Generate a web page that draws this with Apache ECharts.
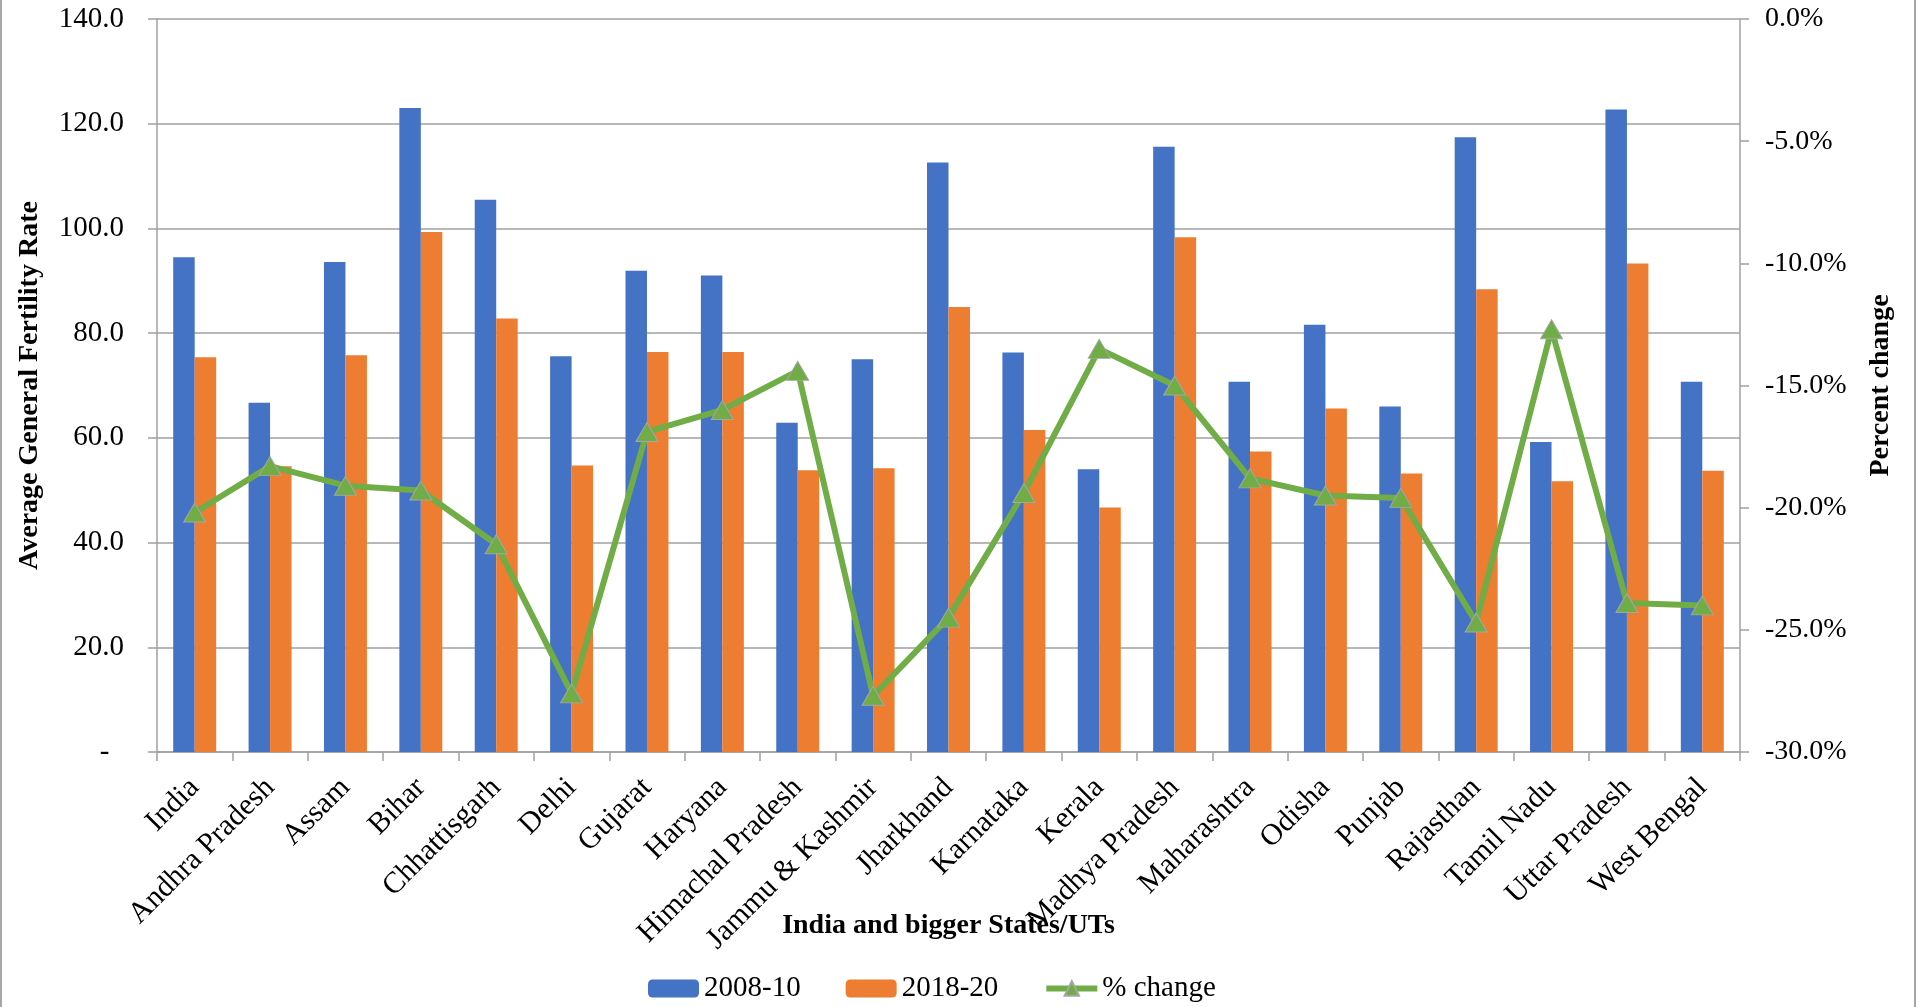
<!DOCTYPE html>
<html>
<head>
<meta charset="utf-8">
<script src="https://cdn.jsdelivr.net/npm/echarts@6/dist/echarts.min.js"></script>
<style>
html,body{margin:0;padding:0;background:#fff;}
#chart{width:1918px;height:1007px;}
</style>
</head>
<body>
<div id="chart"></div>
<script>
const categories = ['India','Andhra Pradesh','Assam','Bihar','Chhattisgarh','Delhi','Gujarat','Haryana','Himachal Pradesh','Jammu & Kashmir','Jharkhand','Karnataka','Kerala','Madhya Pradesh','Maharashtra','Odisha','Punjab','Rajasthan','Tamil Nadu','Uttar Pradesh','West Bengal'];
const gfr2008 = [94.5, 66.7, 93.6, 123.0, 105.5, 75.6, 91.9, 91.0, 62.9, 75.0, 112.6, 76.3, 54.0, 115.6, 70.7, 81.6, 66.0, 117.4, 59.2, 122.7, 70.7];
const gfr2018 = [75.4, 54.6, 75.8, 99.3, 82.8, 54.7, 76.4, 76.4, 53.8, 54.2, 85.0, 61.5, 46.7, 98.3, 57.4, 65.6, 53.2, 88.4, 51.7, 93.3, 53.7];
const pctChange = [-20.2, -18.3, -19.1, -19.3, -21.5, -27.6, -16.9, -16.0, -14.4, -27.7, -24.5, -19.4, -13.5, -15.0, -18.8, -19.5, -19.6, -24.7, -12.7, -23.9, -24.0];
const seriesNames = ['2008-10', '2018-20', '% change'];

const FONT = '"Liberation Serif", "Times New Roman", serif';
const chart = echarts.init(document.getElementById('chart'), null, {renderer: 'canvas'});
chart.setOption({
  animation: false,
  backgroundColor: '#fff',
  textStyle: {fontFamily: FONT, color: '#000'},
  grid: {left: 157, right: 178, top: 19, bottom: 255, containLabel: false, outerBoundsMode: 'none'},
  legend: {
    top: 969, left: 643,
    itemWidth: 51, itemHeight: 18, itemGap: 45,
    textStyle: {fontFamily: FONT, fontSize: 29, color: '#000'},
    lineStyle: {width: 6},
    data: seriesNames
  },
  graphic: [{
    type: 'rect', silent: true, z: -1,
    shape: {x: 1, y: -5, width: 1914, height: 1020},
    style: {fill: 'none', stroke: '#a6a6a6', lineWidth: 2}
  }],
  xAxis: {
    type: 'category', data: categories,
    boundaryGap: true,
    name: 'India and bigger States/UTs',
    nameLocation: 'middle', nameGap: 160, nameMoveOverlap: false,
    nameTextStyle: {fontFamily: FONT, fontSize: 28, fontWeight: 'bold', color: '#000'},
    axisLine: {lineStyle: {color: '#a0a0a0', width: 1.5}},
    axisTick: {show: true, alignWithLabel: false, length: 9, lineStyle: {color: '#a0a0a0', width: 1.5}},
    axisLabel: {rotate: 45, interval: 0, margin: 31, fontFamily: FONT, fontSize: 30, color: '#000'}
  },
  yAxis: [{
    type: 'value', min: 0, max: 140, interval: 20,
    name: 'Average General Fertility Rate',
    nameLocation: 'middle', nameGap: 113, nameRotate: 90, nameMoveOverlap: false,
    nameTextStyle: {fontFamily: FONT, fontSize: 28, fontWeight: 'bold', color: '#000'},
    axisLine: {show: true, lineStyle: {color: '#a0a0a0', width: 1.5}},
    axisTick: {show: true, length: 9, lineStyle: {color: '#a0a0a0', width: 1.5}},
    axisLabel: {margin: 33, fontFamily: FONT, fontSize: 29, color: '#000',
      formatter: v => v === 0 ? '-\u2002' : v.toFixed(1)},
    splitLine: {show: true, lineStyle: {color: '#a0a0a0', width: 1.5}}
  }, {
    type: 'value', min: -30, max: 0, interval: 5, position: 'right',
    name: 'Percent change',
    nameLocation: 'middle', nameGap: 127, nameRotate: 90, nameMoveOverlap: false,
    nameTextStyle: {fontFamily: FONT, fontSize: 28, fontWeight: 'bold', color: '#000'},
    axisLine: {show: true, lineStyle: {color: '#a0a0a0', width: 1.5}},
    axisTick: {show: true, length: 9, lineStyle: {color: '#a0a0a0', width: 1.5}},
    axisLabel: {margin: 25, fontFamily: FONT, fontSize: 28, color: '#000',
      formatter: v => v.toFixed(1) + '%'},
    splitLine: {show: false}
  }],
  series: [{
    name: seriesNames[0], type: 'bar', data: gfr2008,
    barGap: '0%', barCategoryGap: '43%',
    itemStyle: {color: '#4472C4'}
  }, {
    name: seriesNames[1], type: 'bar', data: gfr2018,
    itemStyle: {color: '#ED7D31'}
  }, {
    name: seriesNames[2], type: 'line', data: pctChange, yAxisIndex: 1,
    symbol: 'triangle', symbolSize: [22, 19],
    lineStyle: {color: '#70AD47', width: 6},
    itemStyle: {color: '#70AD47', borderColor: '#a5a5a5', borderWidth: 1},
    z: 5
  }]
});
</script>
</body>
</html>
